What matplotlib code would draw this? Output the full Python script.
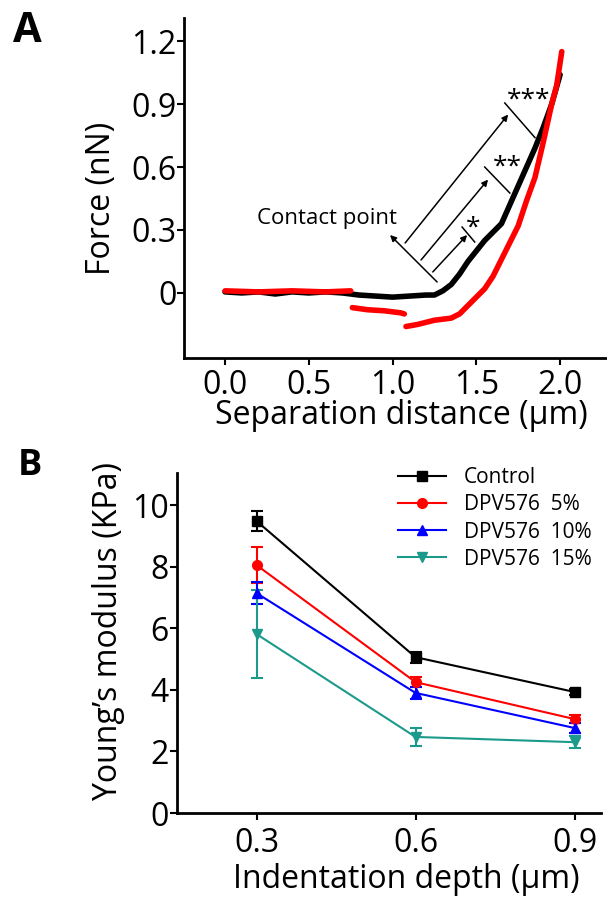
import matplotlib
matplotlib.use('Agg')
import matplotlib.pyplot as plt
import numpy as np

plt.rcParams['font.family'] = ['Open Sans', 'DejaVu Sans']

nan = np.nan

# A: force curves, NaN marks a jump in the red curve
black_x = [0.00, 0.10, 0.20, 0.30, 0.40, 0.50, 0.60, 0.70, 0.80, 0.90, 1.00, 1.10, 1.20, 1.25,
           1.30, 1.35, 1.40, 1.45, 1.50, 1.55, 1.60, 1.65, 1.70, 1.75, 1.80, 1.85, 1.90, 1.95, 2.00]
black_y = [0.005, 0.0, 0.005, -0.005, 0.005, 0.0, 0.005, 0.0, -0.01, -0.015, -0.02, -0.015, -0.01, -0.01,
           0.01, 0.04, 0.09, 0.15, 0.20, 0.25, 0.29, 0.33, 0.42, 0.51, 0.60, 0.69, 0.79, 0.90, 1.04]

red_x = [0.00, 0.20, 0.40, 0.60, 0.75, nan,
         0.76, 0.85, 0.95, 1.05, 1.07, nan,
         1.08, 1.15, 1.25, 1.35, 1.40, 1.45, 1.50, 1.55, 1.60, 1.65, 1.70, 1.75, 1.80, 1.85, 1.90,
         1.95, 1.98, 2.01]
red_y = [0.01, 0.005, 0.01, 0.005, 0.01, nan,
         -0.07, -0.08, -0.085, -0.095, -0.10, nan,
         -0.16, -0.15, -0.13, -0.12, -0.10, -0.06, -0.02, 0.02, 0.08, 0.16, 0.24, 0.32, 0.44, 0.55, 0.72,
         0.90, 0.99, 1.15]

# B: Young's modulus
depth = [0.3, 0.6, 0.9]
groups = ['Control', 'DPV576  5%', 'DPV576  10%', 'DPV576  15%']
modulus = [[9.48, 5.06, 3.93],
           [8.05, 4.25, 3.05],
           [7.14, 3.90, 2.76],
           [5.81, 2.47, 2.30]]
errors = [[0.32, 0.18, 0.10],
          [0.58, 0.15, 0.12],
          [0.36, 0.20, 0.15],
          [1.43, 0.30, 0.20]]
colors = ['black', '#ff0000', '#0000ff', '#1b9a8c']
markers = ['s', 'o', '^', 'v']

W, H = 607, 900
fig = plt.figure(figsize=(W / 100, H / 100), dpi=100)


def style_axes(ax):
    for s in ['top', 'right']:
        ax.spines[s].set_visible(False)
    for s in ['left', 'bottom']:
        ax.spines[s].set_linewidth(2.0)
    ax.tick_params(direction='out', length=5, width=1.5, pad=1)


def px(x, y):
    # pixel position (from top-left) -> figure fraction
    return x / W, 1 - y / H


# ---- panel A
axA = fig.add_axes([184 / W, 1 - 358 / H, 423 / W, 340 / H])
style_axes(axA)
axA.plot(black_x, black_y, color='black', lw=4, solid_capstyle='round', zorder=2)
axA.plot(red_x, red_y, color='#ff0000', lw=4, solid_capstyle='round', zorder=3)
axA.set_xlim(-0.245, 2.28)
axA.set_ylim(-0.31, 1.31)
axA.set_xticks([0.0, 0.5, 1.0, 1.5, 2.0])
axA.set_xticklabels(['0.0', '0.5', '1.0', '1.5', '2.0'])
axA.set_yticks([0, 0.3, 0.6, 0.9, 1.2])
axA.set_yticklabels(['0', '0.3', '0.6', '0.9', '1.2'])
axA.tick_params(axis='y', labelsize=23, pad=0.5)
axA.tick_params(axis='x', labelsize=23, pad=3)
fig.text(*px(401, 424), 'Separation distance (\u03bcm)', fontsize=23, ha='center', va='baseline')
fig.text(*px(110, 198), 'Force (nN)', fontsize=23, ha='center', va='baseline',
         rotation=90, rotation_mode='anchor')

# contact point line and the three indentation arrows
arr = dict(arrowstyle='-|>', color='black', lw=1.1, mutation_scale=9, shrinkA=0, shrinkB=0)
axA.annotate('', xy=(0.985, 0.276), xytext=(1.266, 0.052), arrowprops=arr)
axA.annotate('', xy=(1.69, 0.85), xytext=(1.075, 0.238), arrowprops=arr)
axA.annotate('', xy=(1.57, 0.54), xytext=(1.17, 0.157), arrowprops=arr)
axA.annotate('', xy=(1.445, 0.276), xytext=(1.24, 0.10), arrowprops=arr)
axA.plot([1.67, 1.85], [0.905, 0.74], color='black', lw=1.1)
axA.plot([1.55, 1.70], [0.60, 0.476], color='black', lw=1.1)
axA.plot([1.415, 1.49], [0.314, 0.243], color='black', lw=1.1)
axA.text(0.19, 0.357, 'Contact point', fontsize=16, va='center', ha='left')
axA.text(1.81, 0.86, '***', fontsize=19, ha='center', va='bottom')
axA.text(1.685, 0.54, '**', fontsize=19, ha='center', va='bottom')
axA.text(1.48, 0.25, '*', fontsize=19, ha='center', va='bottom')

# ---- panel B
axB = fig.add_axes([177 / W, 1 - 813 / H, 424 / W, 340 / H])
style_axes(axB)
handles = []
for vals, err, c, m, name in zip(modulus, errors, colors, markers, groups):
    eb = axB.errorbar(depth, vals, yerr=err, color=c, marker=m, ms=7, lw=1.5,
                      elinewidth=1.5, capsize=4, capthick=1.5, label=name)
    handles.append(eb[0])
axB.set_xlim(0.15, 0.95)
axB.set_ylim(0, 11.04)
axB.set_xticks(depth)
axB.set_xticklabels(['0.3', '0.6', '0.9'])
axB.set_yticks([0, 2, 4, 6, 8, 10])
axB.tick_params(axis='both', labelsize=23)
axB.tick_params(axis='x', pad=5)
fig.text(*px(406, 888), 'Indentation depth (\u03bcm)', fontsize=23, ha='center', va='baseline')
fig.text(*px(117, 631), 'Young\u2019s modulus (KPa)', fontsize=23, ha='center', va='baseline',
         rotation=90, rotation_mode='anchor')
axB.legend(handles, groups, loc='upper left', bbox_to_anchor=(221 / 424, (813 - 467) / 340),
           frameon=False, fontsize=15, handlelength=2.3, handletextpad=0.85,
           labelspacing=0.3, borderpad=0, borderaxespad=0)

fig.text(*px(13, 42), 'A', fontsize=30, fontweight='bold', va='baseline')
fig.text(*px(18, 475), 'B', fontsize=26, fontweight='bold', va='baseline')

fig.savefig('out.png', dpi=100)
